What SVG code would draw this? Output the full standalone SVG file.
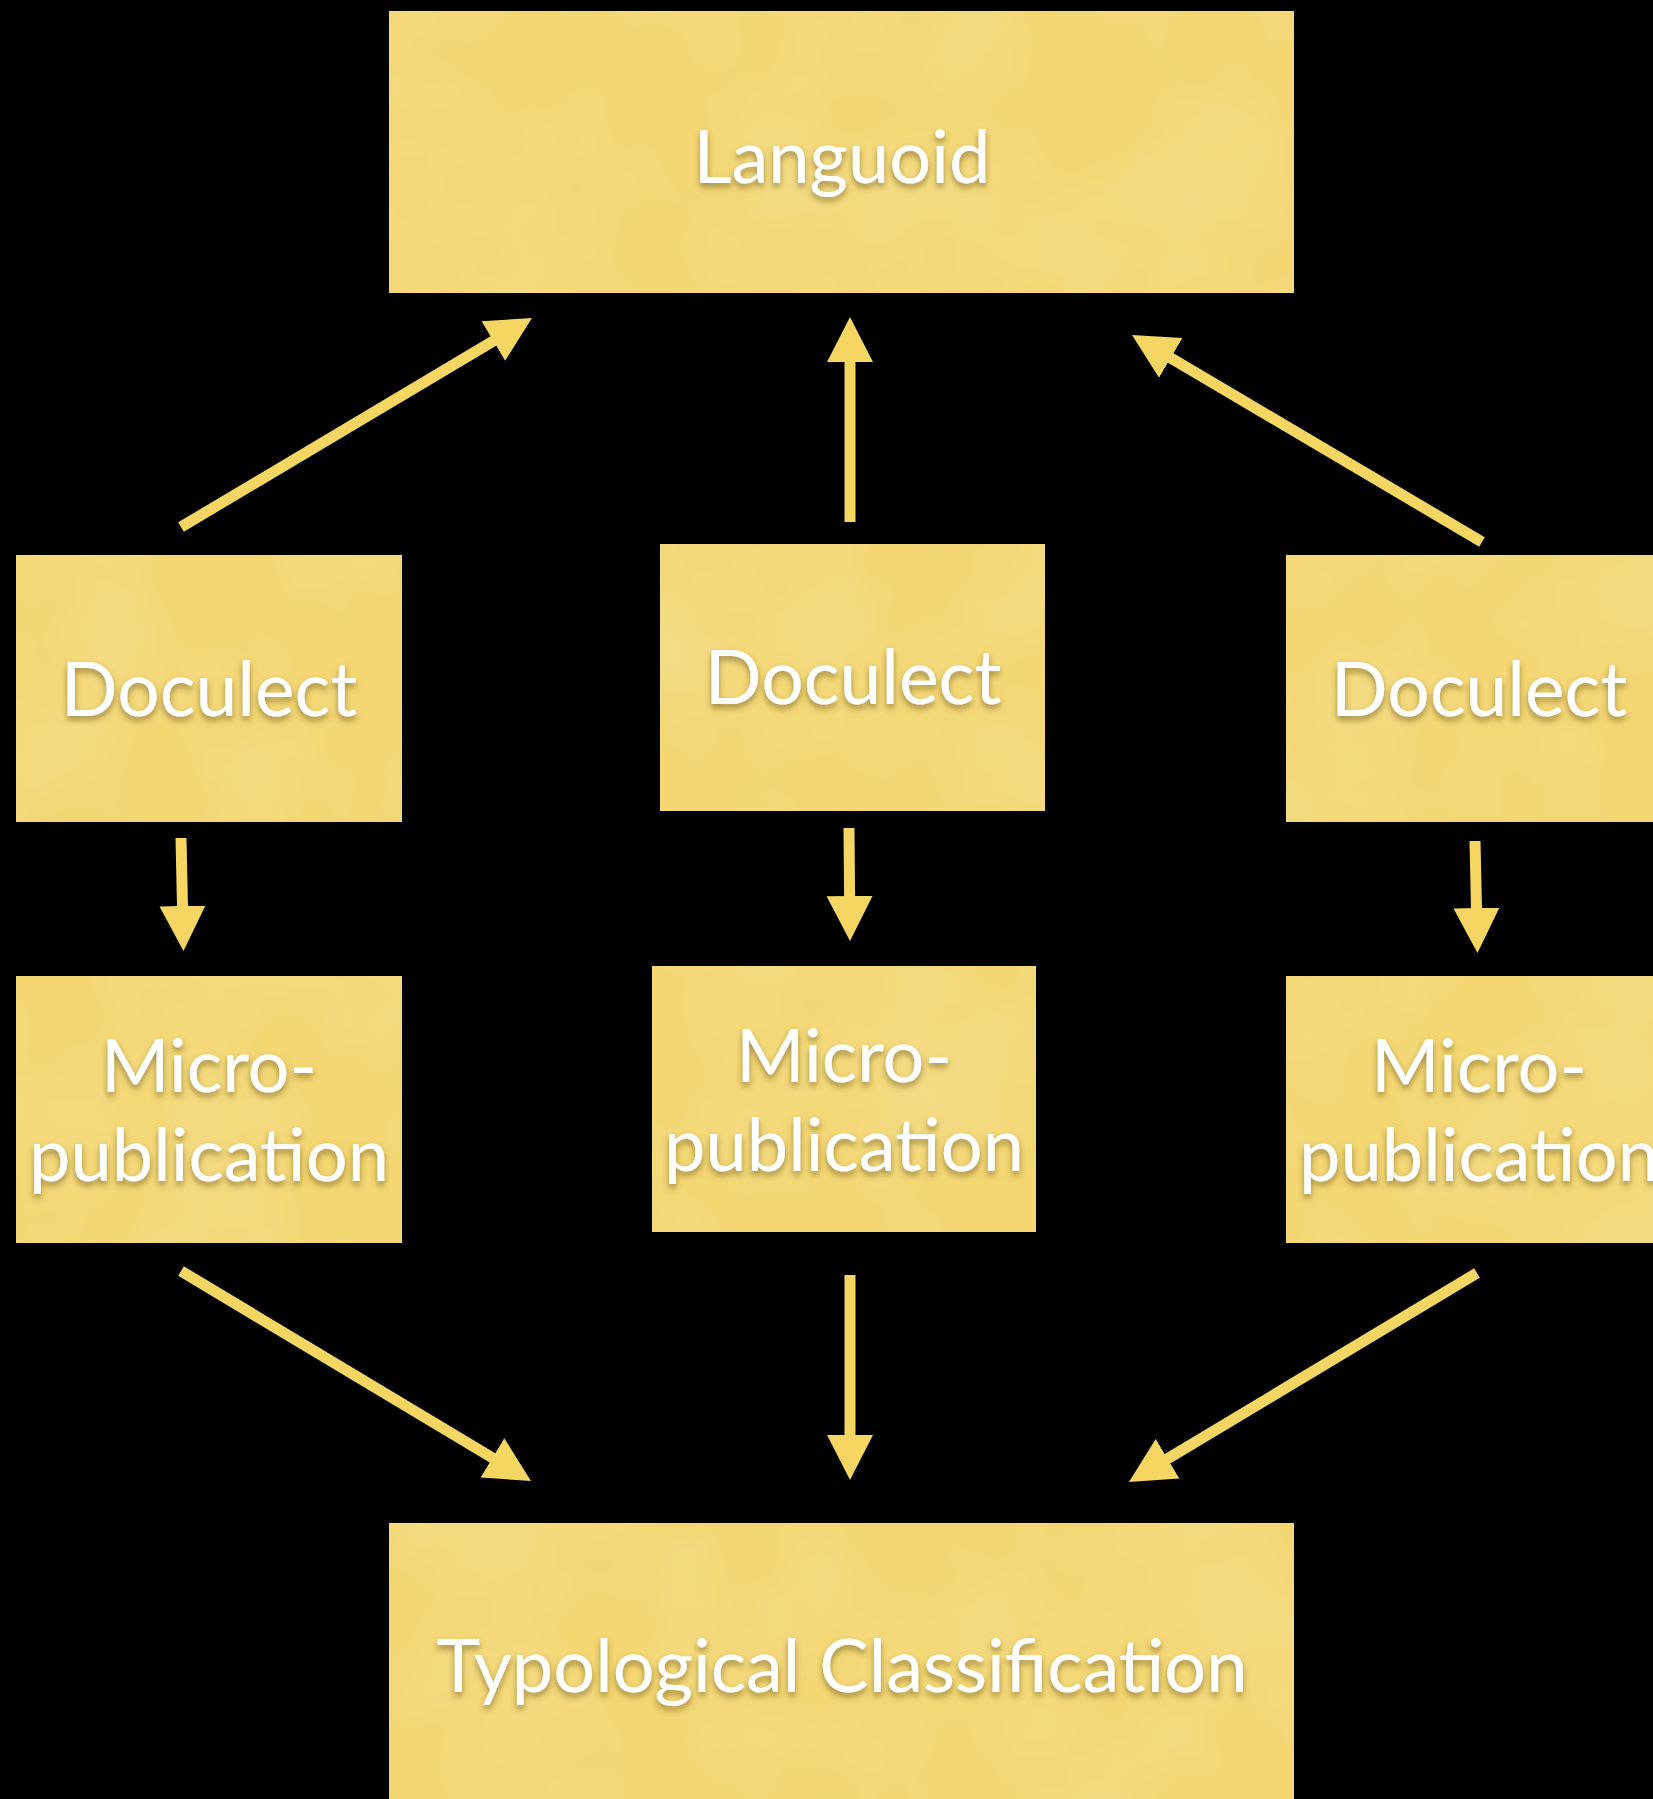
<svg xmlns="http://www.w3.org/2000/svg" width="1653" height="1799" viewBox="0 0 1653 1799">
  <style>
    .box { fill: #f4d672; filter: url(#paper); }
    .label { font-family: "Lato", "Open Sans", "DejaVu Sans", sans-serif; font-size: 74px; fill: #ffffff; text-anchor: middle; filter: url(#shadow); }
    .wide { font-size: 75px; }
    .conn { stroke: #f6d662; stroke-width: 11; fill: none; stroke-linecap: butt; marker-end: url(#head); }
  </style>
  <defs>
    <!-- soft mottled paper texture for the boxes -->
    <filter id="paper" x="0" y="0" width="100%" height="100%">
      <feTurbulence type="fractalNoise" baseFrequency="0.007" numOctaves="3" seed="7" result="n"/>
      <feColorMatrix in="n" type="matrix" values="0 0 0 0 0.90  0 0 0 0 0.76  0 0 0 0 0.30  0 0 0 0.9 -0.3" result="spots"/>
      <feComposite in="spots" in2="SourceGraphic" operator="atop"/>
    </filter>
    <filter id="shadow" x="-10%" y="-20%" width="120%" height="150%">
      <feDropShadow dx="0" dy="4" stdDeviation="3" flood-color="#5a4710" flood-opacity="0.55"/>
    </filter>
    <marker id="head" markerUnits="userSpaceOnUse" markerWidth="46" markerHeight="48" refX="1" refY="24" orient="auto">
      <path d="M0,1 L45,24 L0,47 z" fill="#f6d662"/>
    </marker>
  </defs>

  <rect width="1653" height="1799" fill="#000000"/>

  <!-- connectors -->
  <g id="connectors">
    <line class="conn" x1="181" y1="527" x2="494.2" y2="340.5"/>
    <line class="conn" x1="850" y1="522" x2="850" y2="361"/>
    <line class="conn" x1="1482" y1="542" x2="1169.9" y2="357.4"/>
    <line class="conn" x1="181" y1="838" x2="182.5" y2="907"/>
    <line class="conn" x1="849" y1="828" x2="849.6" y2="897"/>
    <line class="conn" x1="1475" y1="841" x2="1476.5" y2="909"/>
    <line class="conn" x1="181" y1="1271" x2="493.3" y2="1458.4"/>
    <line class="conn" x1="850" y1="1275" x2="850" y2="1436"/>
    <line class="conn" x1="1477" y1="1273" x2="1166.7" y2="1459.3"/>
  </g>

  <!-- nodes -->
  <g id="languoid">
    <rect class="box" x="389" y="11" width="905" height="282"/>
    <text class="label" x="842" y="183">Languoid</text>
  </g>
  <g id="doculect-left">
    <rect class="box" x="16" y="555" width="386" height="267"/>
    <text class="label wide" x="209" y="716">Doculect</text>
  </g>
  <g id="doculect-mid">
    <rect class="box" x="660" y="544" width="385" height="267"/>
    <text class="label wide" x="853" y="704">Doculect</text>
  </g>
  <g id="doculect-right">
    <rect class="box" x="1286" y="555" width="386" height="267"/>
    <text class="label wide" x="1479" y="716">Doculect</text>
  </g>
  <g id="micro-left">
    <rect class="box" x="16" y="976" width="386" height="267"/>
    <text class="label" x="209" y="1092">Micro-</text>
    <text class="label" x="209" y="1181">publication</text>
  </g>
  <g id="micro-mid">
    <rect class="box" x="652" y="966" width="384" height="266"/>
    <text class="label" x="844" y="1082">Micro-</text>
    <text class="label" x="844" y="1171">publication</text>
  </g>
  <g id="micro-right">
    <rect class="box" x="1286" y="976" width="386" height="267"/>
    <text class="label" x="1479" y="1092">Micro-</text>
    <text class="label" x="1479" y="1181">publication</text>
  </g>
  <g id="typological">
    <rect class="box" x="389" y="1523" width="905" height="290"/>
    <text class="label" x="842" y="1692">Typological Classification</text>
  </g>
</svg>
